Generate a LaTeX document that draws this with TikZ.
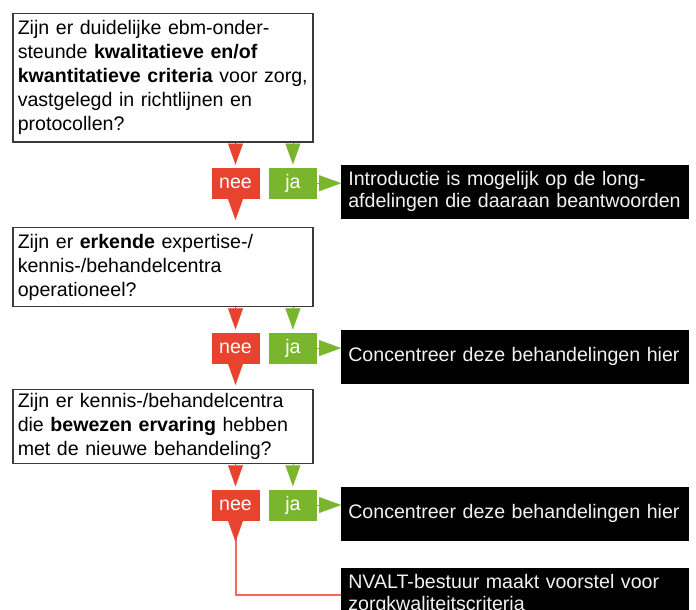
\documentclass[tikz,border=0pt]{standalone}
\usepackage{fontspec}
\setmainfont{Liberation Sans}
\usetikzlibrary{calc, positioning, arrows.meta}
\definecolor{neered}{HTML}{E8432E}
\definecolor{jagreen}{HTML}{79B62D}
\definecolor{neeline}{HTML}{F26A5A}
\definecolor{boxgrey}{HTML}{3A3A3A}
\definecolor{answertext}{HTML}{F2F2F2}

\begin{document}
\begin{tikzpicture}[x=1pt, y=-1pt, node distance=25pt,
  question/.style={draw=boxgrey, line width=1.5pt, rectangle, text width=290pt, inner xsep=5pt, inner ysep=0pt,
    align=left, font=\fontsize{19.6pt}{24pt}\selectfont},
  answer/.style={fill=black, text=answertext, text width=334pt, inner xsep=7pt, inner ysep=0pt,
    minimum height=54pt, align=left, font=\fontsize{19.6pt}{22pt}\selectfont},
  choice/.style={text=white, minimum width=48pt, minimum height=31pt, inner sep=0pt,
    font=\fontsize{19.6pt}{22pt}\selectfont},
  neebox/.style={choice, fill=neered},
  jabox/.style={choice, fill=jagreen},
  tipdown/.style={line width=0.1pt, -{Triangle[width=15pt, length=21pt]}},
  tipright/.style={line width=0.1pt, -{Triangle[width=16pt, length=22pt]}}]

  \useasboundingbox (0,0) rectangle (696,610);

  % Question 1
  \node[question, minimum height=128pt, anchor=north west] (q1) at (12,13)
    {Zijn er duidelijke ebm-onder-\\steunde \textbf{kwalitatieve en/of}\\\textbf{kwantitatieve criteria} voor zorg,\\vastgelegd in richtlijnen en\\protocollen?};
  \node[neebox, below=25pt of q1.south east, xshift=-78pt] (nee1) {nee};
  \node[jabox, right=9pt of nee1] (ja1) {ja};
  \node[answer, right=24pt of ja1, yshift=-8.5pt] (ans1)
    {Introductie is mogelijk op de long-\\afdelingen die daaraan beantwoorden};

  % Question 2
  \node[question, minimum height=79pt, anchor=north west] (q2) at ($(nee1.south -| q1.west)+(0,28)$)
    {Zijn er \textbf{erkende} expertise-/\\kennis-/behandelcentra\\operationeel?};
  \node[neebox, below=25pt of q2.south east, xshift=-78pt] (nee2) {nee};
  \node[jabox, right=9pt of nee2] (ja2) {ja};
  \node[answer, right=24pt of ja2, yshift=-8.5pt] (ans2) {Concentreer deze behandelingen hier};

  % Question 3
  \node[question, minimum height=74pt, anchor=north west] (q3) at ($(nee2.south -| q1.west)+(0,25)$)
    {Zijn er kennis-/behandelcentra\\die \textbf{bewezen ervaring} hebben\\met de nieuwe behandeling?};
  \node[neebox, below=25pt of q3.south east, xshift=-78pt] (nee3) {nee};
  \node[jabox, right=9pt of nee3] (ja3) {ja};
  \node[answer, right=24pt of ja3, yshift=-8.5pt] (ans3) {Concentreer deze behandelingen hier};

  % Final answer
  \node[answer, below=27pt of ans3] (ans4) {NVALT-bestuur maakt voorstel voor\\zorgkwaliteitscriteria};

  % Last "nee" path
  \draw[neeline, line width=2pt] (nee3.south) |- (ans4.west);

  % Tips into the choices
  \foreach \i in {1,2,3} {
    \draw[neered, tipdown] (q\i.south -| nee\i.north) -- ($(nee\i.north)+(0,-3)$);
    \draw[jagreen, tipdown] (q\i.south -| ja\i.north) -- ($(ja\i.north)+(0,-3)$);
    \draw[neered, tipdown] (nee\i.south) -- ($(nee\i.south)+(0,21)$);
    \draw[jagreen, tipright] (ja\i.east) -- (ja\i.east -| ans\i.west);
  }
\end{tikzpicture}
\end{document}
